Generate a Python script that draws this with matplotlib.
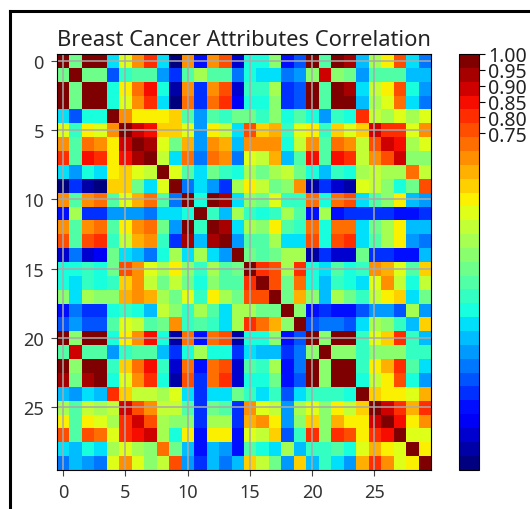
import numpy as np
import matplotlib
matplotlib.use('Agg')
import matplotlib.pyplot as plt
from matplotlib.lines import Line2D

# Correlation of the 30 attributes, one list per attribute
radius_mean = [1.00, .32, .998, .987, .17, .51, .68, .82, .15, -.31, .68, -.10, .67, .74, -.22, .21, .19, .38, -.10, -.04, .97, .30, .97, .94, .12, .41, .53, .74, .16, .01]
texture_mean = [.32, 1.00, .33, .32, -.02, .24, .30, .29, .07, -.08, .28, .39, .28, .26, .01, .19, .14, .16, .01, .05, .35, .91, .36, .34, .08, .28, .30, .30, .11, .12]
perimeter_mean = [.998, .33, 1.00, .987, .21, .56, .72, .85, .18, -.26, .69, -.09, .69, .74, -.20, .25, .23, .41, -.08, -.01, .97, .30, .97, .94, .15, .46, .56, .77, .19, .05]
area_mean = [.987, .32, .987, 1.00, .18, .50, .69, .82, .15, -.28, .73, -.07, .73, .80, -.17, .21, .21, .37, -.07, -.02, .96, .29, .96, .96, .12, .39, .51, .72, .14, .00]
smoothness_mean = [.17, -.02, .21, .18, 1.00, .66, .52, .55, .56, .58, .30, .07, .30, .25, .33, .32, .25, .38, .20, .28, .21, .04, .24, .21, .81, .47, .43, .50, .39, .50]
compactness_mean = [.51, .24, .56, .50, .66, 1.00, .88, .83, .60, .57, .50, .05, .55, .46, .14, .74, .57, .64, .23, .51, .54, .25, .59, .51, .57, .87, .82, .82, .51, .69]
concavity_mean = [.68, .30, .72, .69, .52, .88, 1.00, .92, .50, .34, .63, .08, .66, .62, .10, .67, .69, .68, .18, .45, .69, .30, .73, .68, .45, .75, .88, .86, .41, .51]
concave_points_mean = [.82, .29, .85, .82, .55, .83, .92, 1.00, .46, .17, .70, .02, .71, .69, .03, .49, .44, .62, .10, .26, .83, .29, .86, .81, .45, .67, .75, .91, .38, .37]
symmetry_mean = [.15, .07, .18, .15, .56, .60, .50, .46, 1.00, .48, .30, .13, .31, .22, .19, .42, .34, .39, .45, .33, .19, .09, .22, .18, .43, .47, .43, .43, .70, .44]
fractal_mean = [-.31, -.08, -.26, -.28, .58, .57, .34, .17, .48, 1.00, .00, .16, .04, -.09, .40, .56, .45, .34, .35, .69, -.25, -.05, -.21, -.23, .50, .46, .35, .18, .33, .77]
radius_se = [.68, .28, .69, .73, .30, .50, .63, .70, .30, .00, 1.00, .21, .97, .95, .16, .36, .33, .51, .24, .23, .72, .19, .72, .75, .14, .29, .38, .53, .09, .05]
texture_se = [-.10, .39, -.09, -.07, .07, .05, .08, .02, .13, .16, .21, 1.00, .22, .11, .40, .23, .19, .23, .41, .28, -.11, .41, -.10, -.08, -.07, -.09, -.07, -.12, -.13, -.05]
perimeter_se = [.67, .28, .69, .73, .30, .55, .66, .71, .31, .04, .97, .22, 1.00, .94, .15, .42, .36, .56, .27, .24, .70, .20, .72, .73, .13, .34, .42, .55, .11, .09]
area_se = [.74, .26, .74, .80, .25, .46, .62, .69, .22, -.09, .95, .11, .94, 1.00, .08, .28, .27, .42, .13, .13, .76, .20, .76, .81, .13, .28, .39, .54, .07, .02]
smoothness_se = [-.22, .01, -.20, -.17, .33, .14, .10, .03, .19, .40, .16, .40, .15, .08, 1.00, .34, .27, .33, .41, .43, -.23, -.07, -.22, -.18, .31, -.06, -.06, -.10, -.11, .10]
compactness_se = [.21, .19, .25, .21, .32, .74, .67, .49, .42, .56, .36, .23, .42, .28, .34, 1.00, .80, .74, .39, .80, .20, .14, .26, .20, .23, .68, .64, .48, .28, .59]
concavity_se = [.19, .14, .23, .21, .25, .57, .69, .44, .34, .45, .33, .19, .36, .27, .27, .80, 1.00, .77, .31, .73, .19, .10, .23, .19, .17, .48, .66, .44, .20, .44]
concave_points_se = [.38, .16, .41, .37, .38, .64, .68, .62, .39, .34, .51, .23, .56, .42, .33, .74, .77, 1.00, .31, .61, .36, .09, .39, .34, .22, .45, .55, .60, .14, .31]
symmetry_se = [-.10, .01, -.08, -.07, .20, .23, .18, .10, .45, .35, .24, .41, .27, .13, .41, .39, .31, .31, 1.00, .37, -.13, -.08, -.10, -.11, -.01, .06, .04, -.03, .39, .08]
fractal_se = [-.04, .05, -.01, -.02, .28, .51, .45, .26, .33, .69, .23, .28, .24, .13, .43, .80, .73, .61, .37, 1.00, -.04, .00, .00, -.02, .17, .39, .38, .22, .11, .59]
radius_worst = [.97, .35, .97, .96, .21, .54, .69, .83, .19, -.25, .72, -.11, .70, .76, -.23, .20, .19, .36, -.13, -.04, 1.00, .36, .99, .98, .22, .48, .57, .79, .24, .09]
texture_worst = [.30, .91, .30, .29, .04, .25, .30, .29, .09, -.05, .19, .41, .20, .20, -.07, .14, .10, .09, -.08, .00, .36, 1.00, .37, .35, .23, .36, .37, .36, .23, .22]
perimeter_worst = [.97, .36, .97, .96, .24, .59, .73, .86, .22, -.21, .72, -.10, .72, .76, -.22, .26, .23, .39, -.10, .00, .99, .37, 1.00, .98, .24, .53, .62, .82, .27, .14]
area_worst = [.94, .34, .94, .96, .21, .51, .68, .81, .18, -.23, .75, -.08, .73, .81, -.18, .20, .19, .34, -.11, -.02, .98, .35, .98, 1.00, .21, .44, .54, .75, .21, .08]
smoothness_worst = [.12, .08, .15, .12, .81, .57, .45, .45, .43, .50, .14, -.07, .13, .13, .31, .23, .17, .22, -.01, .17, .22, .23, .24, .21, 1.00, .57, .52, .55, .49, .62]
compactness_worst = [.41, .28, .46, .39, .47, .87, .75, .67, .47, .46, .29, -.09, .34, .28, -.06, .68, .48, .45, .06, .39, .48, .36, .53, .44, .57, 1.00, .89, .80, .61, .81]
concavity_worst = [.53, .30, .56, .51, .43, .82, .88, .75, .43, .35, .38, -.07, .42, .39, -.06, .64, .66, .55, .04, .38, .57, .37, .62, .54, .52, .89, 1.00, .86, .53, .69]
concave_points_worst = [.74, .30, .77, .72, .50, .82, .86, .91, .43, .18, .53, -.12, .55, .54, -.10, .48, .44, .60, -.03, .22, .79, .36, .82, .75, .55, .80, .86, 1.00, .50, .51]
symmetry_worst = [.16, .11, .19, .14, .39, .51, .41, .38, .70, .33, .09, -.13, .11, .07, -.11, .28, .20, .14, .39, .11, .24, .23, .27, .21, .49, .61, .53, .50, 1.00, .54]
fractal_worst = [.01, .12, .05, .00, .50, .69, .51, .37, .44, .77, .05, -.05, .09, .02, .10, .59, .44, .31, .08, .59, .09, .22, .14, .08, .62, .81, .69, .51, .54, 1.00]

corr = np.array([radius_mean, texture_mean, perimeter_mean, area_mean, smoothness_mean,
                 compactness_mean, concavity_mean, concave_points_mean, symmetry_mean, fractal_mean,
                 radius_se, texture_se, perimeter_se, area_se, smoothness_se,
                 compactness_se, concavity_se, concave_points_se, symmetry_se, fractal_se,
                 radius_worst, texture_worst, perimeter_worst, area_worst, smoothness_worst,
                 compactness_worst, concavity_worst, concave_points_worst, symmetry_worst, fractal_worst])

axis_ticks = [0, 5, 10, 15, 20, 25]
colorbar_ticks = [.75, .80, .85, .90, .95, 1.00]

plt.rcParams['font.family'] = 'Noto Sans'

W, H = 530, 510
fig = plt.figure(figsize=(W / 100, H / 100), dpi=100)

ax = fig.add_axes([57 / W, 1 - 470.5 / H, 373.5 / W, 415.5 / H])
im = ax.imshow(corr, interpolation='none', cmap=plt.get_cmap('jet', 30), aspect='auto')
ax.set_title('Breast Cancer Attributes Correlation', fontsize=15.8, color='#222222', pad=6.5)
ax.set_xticks(axis_ticks)
ax.set_yticks(axis_ticks)
ax.tick_params(labelsize=13, labelcolor='#333333', color='#444444', length=4.5, pad=5)
ax.grid(True, color='#aaaaaa', lw=1.1)

# Colorbar with only the top ticks, as in the original
cax = fig.add_axes([459 / W, 1 - 470.5 / H, 19.5 / W, 415.5 / H])
cbar = fig.colorbar(im, cax=cax, ticks=colorbar_ticks)
cbar.ax.tick_params(labelsize=14, labelcolor='#222222', length=4.5, pad=2.5)

# Black frame of the screenshot (top and left only)
fig.add_artist(Line2D([9.5 / W, 9.5 / W], [0, 1 - 11.5 / H], color='black', lw=2.2, transform=fig.transFigure))
fig.add_artist(Line2D([9.5 / W, 1], [1 - 11.5 / H, 1 - 11.5 / H], color='black', lw=2.2, transform=fig.transFigure))

plt.savefig('out.png', dpi=100)
